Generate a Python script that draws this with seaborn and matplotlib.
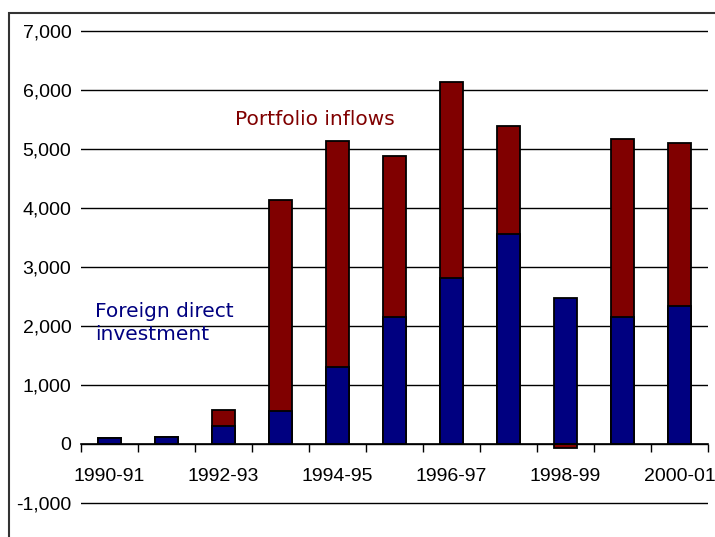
import seaborn as sns
import numpy as np
import pandas as pd
import matplotlib.pyplot as plt
from matplotlib.patches import Rectangle

years = ["1990-91", "1991-92", "1992-93", "1993-94", "1994-95", "1995-96",
         "1996-97", "1997-98", "1998-99", "1999-00", "2000-01"]
fdi = [97, 125, 310, 565, 1310, 2147, 2820, 3554, 2469, 2147, 2344]
portfolio = [0, 0, 261, 3565, 3820, 2734, 3310, 1836, -70, 3022, 2752]
tick_years = ["1990-91", "1992-93", "1994-95", "1996-97", "1998-99", "2000-01"]

navy = "#000080"
maroon = "#800000"

plt.rcParams["font.family"] = ["Liberation Sans", "DejaVu Sans"]

df = pd.DataFrame({"year": years, "fdi": fdi, "portfolio": portfolio})
# red layer: total on top of fdi when positive, or just the negative part
df["red"] = np.where(df["portfolio"] >= 0, df["fdi"] + df["portfolio"], df["portfolio"])

fig = plt.figure(figsize=(7.15, 5.37), dpi=100)
# y range padded a little so the -1,000 and 7,000 gridlines are not clipped
px = 1000 / 59
ax = fig.add_axes([81 / 715, 1 - (503 + 2) / 537, 627 / 715, 476 / 537])

sns.barplot(data=df, x="year", y="red", color=maroon, saturation=1, width=0.42,
            edgecolor="black", linewidth=1.3, ax=ax, zorder=3)
sns.barplot(data=df, x="year", y="fdi", color=navy, saturation=1, width=0.42,
            edgecolor="black", linewidth=1.3, ax=ax, zorder=4)

ax.set_xlim(-0.5, 10.5)
ax.set_ylim(-1000 - 2 * px, 7000 + 2 * px)
ax.set_yticks(range(-1000, 7001, 1000))
ax.set_yticklabels([f"{v:,}" for v in range(-1000, 7001, 1000)])
ax.yaxis.grid(True, color="black", linewidth=1)
ax.set_axisbelow(True)
ax.tick_params(axis="y", length=0, pad=7, labelsize=14)

ax.set_xticks([years.index(y) for y in tick_years])
ax.set_xticklabels(tick_years)
ax.set_xticks(np.arange(-0.5, 11, 1), minor=True)
ax.tick_params(axis="x", which="major", length=0, pad=17.5, labelsize=14)
ax.tick_params(axis="x", which="minor", length=6, width=1, direction="out")

for s in ["top", "right", "left"]:
    ax.spines[s].set_visible(False)
ax.spines["bottom"].set_position(("data", 0))
ax.spines["bottom"].set_linewidth(1.2)
ax.spines["bottom"].set_zorder(5)
ax.set_xlabel("")
ax.set_ylabel("")

ax.text(2.2, 5500, "Portfolio inflows", color=maroon, fontsize=14.5,
        va="center", family="DejaVu Sans")
ax.text(-0.25, 2050, "Foreign direct\ninvestment", color=navy, fontsize=14.5,
        va="center", linespacing=1.25, family="DejaVu Sans")

fig.patches.append(Rectangle((9 / 715, -0.1), 1.2, 1 - 13 / 537 + 0.1,
                             transform=fig.transFigure, fill=False,
                             edgecolor="#333333", linewidth=1.5))

fig.savefig("out.png", dpi=100)
